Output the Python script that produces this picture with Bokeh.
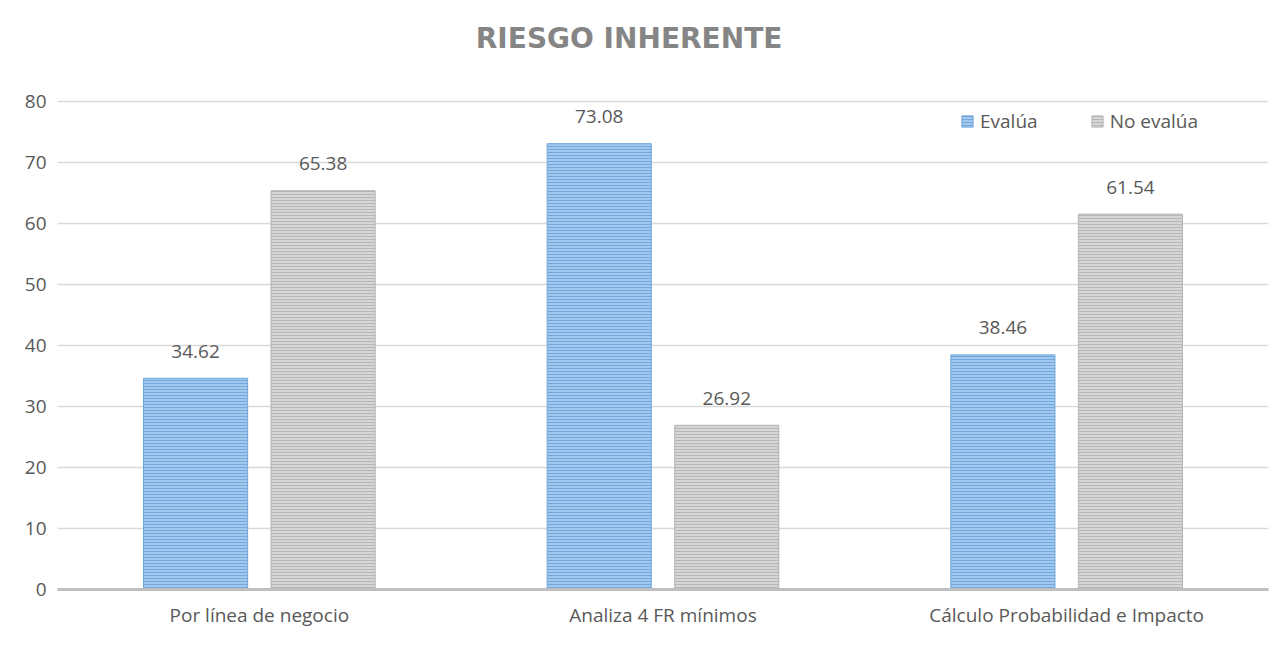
from bokeh.plotting import figure
from bokeh.models import ColumnDataSource, FactorRange, Range1d, Label, LabelSet, Legend, LegendItem, FixedTicker
from bokeh.transform import dodge
from bokeh.core.properties import value
from bokeh.embed import file_html
from bokeh.resources import INLINE

categories = ["Por línea de negocio", "Analiza 4 FR mínimos", "Cálculo Probabilidad e Impacto"]
evalua = [34.62, 73.08, 38.46]
no_evalua = [65.38, 26.92, 61.54]
series_names = ["Evalúa", "No evalúa"]
y_ticks = [0, 10, 20, 30, 40, 50, 60, 70, 80]
title_text = "RIESGO INHERENTE"

TXT = "#595959"
FONT = "Open Sans"
FS = "19px"

src = ColumnDataSource(dict(
    cat=categories,
    ev=evalua,
    ne=no_evalua,
    ev_lbl=["%.2f" % v for v in evalua],
    ne_lbl=["%.2f" % v for v in no_evalua],
))

p = figure(
    x_range=FactorRange(*categories, range_padding=0),
    y_range=Range1d(0, 95.25),
    width=1275, height=650,
    output_backend="svg", toolbar_location=None,
    min_border_left=57, min_border_right=7, min_border_top=8, min_border_bottom=61,
)
p.outline_line_color = None
p.background_fill_color = "white"
p.border_fill_color = "white"

off = 0.158
bw = 0.258
r1 = p.vbar(x=dodge("cat", -off, range=p.x_range), top="ev", width=bw, source=src,
            fill_color="#a3c8ee", line_color="#6fa6dc", line_width=1,
            hatch_pattern="horizontal_line", hatch_color="#5b9bd5", hatch_scale=3,
            hatch_weight=1, hatch_alpha=0.7)
r2 = p.vbar(x=dodge("cat", off, range=p.x_range), top="ne", width=bw, source=src,
            fill_color="#d6d6d6", line_color="#b5b5b5", line_width=1,
            hatch_pattern="horizontal_line", hatch_color="#a8a8a8", hatch_scale=3,
            hatch_weight=1, hatch_alpha=0.7)

for col, lbl, o in (("ev", "ev_lbl", -off), ("ne", "ne_lbl", off)):
    ls = LabelSet(x=dodge("cat", o, range=p.x_range), y=col, text=lbl,
                  source=src, text_align="center", text_baseline="middle", y_offset=27,
                  text_font=value(FONT), text_font_size=value(FS), text_color=value(TXT))
    p.add_layout(ls)

# axes
p.yaxis.ticker = FixedTicker(ticks=y_ticks)
p.yaxis.axis_line_color = None
p.yaxis.major_tick_line_color = None
p.yaxis.minor_tick_line_color = None
p.yaxis.major_label_standoff = 5
p.yaxis.major_label_text_font = FONT
p.yaxis.major_label_text_font_size = FS
p.yaxis.major_label_text_color = TXT

p.xaxis.axis_line_color = "#bfbfbf"
p.xaxis.axis_line_width = 3
p.xaxis.major_tick_line_color = None
p.xaxis.minor_tick_line_color = None
p.xaxis.major_label_standoff = 6
p.xaxis.major_label_text_font = FONT
p.xaxis.major_label_text_font_size = FS
p.xaxis.major_label_text_color = TXT

p.xgrid.grid_line_color = None
p.ygrid.grid_line_color = "#d9d9d9"
p.ygrid.grid_line_width = 1.5

# title
p.add_layout(Label(x=1.416, y=90.3, text=title_text, text_align="center", text_baseline="middle",
                   text_font="DejaVu Sans", text_font_style="bold", text_font_size="28px",
                   text_color="#858585"))

legend = Legend(items=[LegendItem(label=series_names[0], renderers=[r1]),
                       LegendItem(label=series_names[1], renderers=[r2])],
                orientation="horizontal", location=(903, 455),
                padding=0, margin=0, spacing=52, label_standoff=6,
                glyph_width=14, glyph_height=14,
                label_text_font=FONT, label_text_font_size=FS, label_text_color=TXT,
                border_line_color=None, background_fill_alpha=0)
p.add_layout(legend)

open("out.html", "w").write(file_html(p, INLINE))
